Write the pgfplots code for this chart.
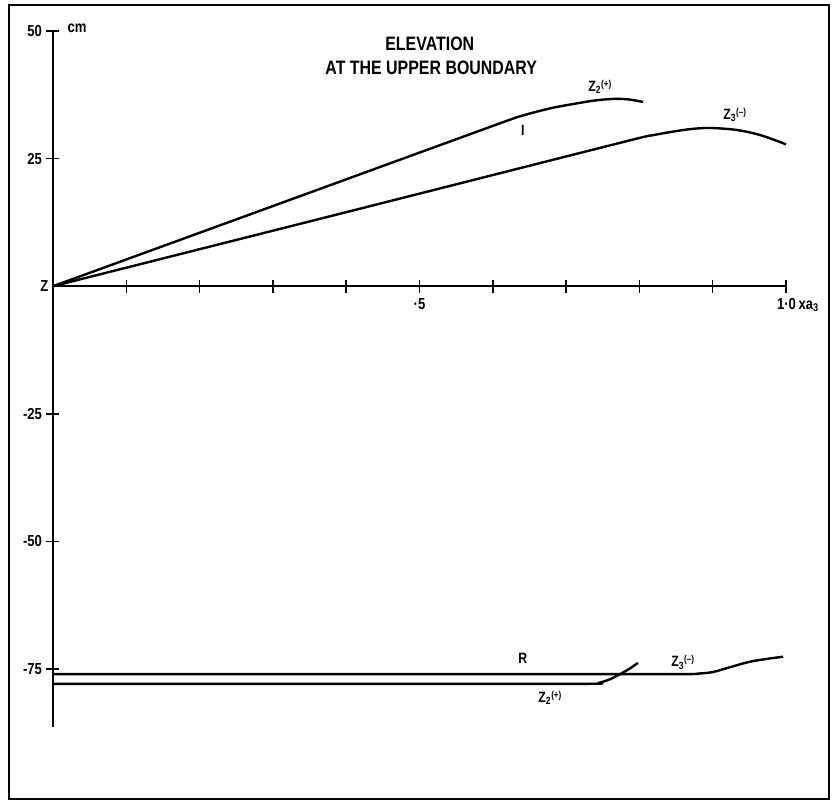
\documentclass[border=0pt]{standalone}
\usepackage{pgfplots}
\pgfplotsset{compat=1.18}
\usepackage{fontspec}
\setmainfont{Liberation Sans}[FakeStretch=0.82]
\newcommand{\lab}[3]{#1\textsubscript{#2}\raisebox{0.5ex}{\fontsize{10}{10}\selectfont #3}}
\begin{document}
\begin{tikzpicture}
\begin{axis}[
  x=733bp, y=5.104bp,
  xmin=0, xmax=1, ymin=-86.4, ymax=50,
  axis lines=middle,
  axis line style={-, line width=1.7bp},
  hide obscured x ticks=false, hide obscured y ticks=false,
  xtick={0.1,0.2,0.3,0.4,0.5,0.6,0.7,0.8,0.9,1.0},
  xticklabels={,,,,{·5},,,,,{\makebox[0pt][l]{\hspace{-9bp}1·0\,xa\textsubscript{3}}}},
  ytick={-75,-50,-25,25,50},
  yticklabels={-75,-50,-25,25,50},
  extra y ticks={0},
  extra y tick labels={Z},
  extra y tick style={major tick length=0pt},
  tick align=center,
  major tick length=13bp,
  tick style={line width=1.5bp, black},
  ticklabel style={font=\fontsize{16}{16}\bfseries\selectfont},
  xticklabel style={yshift=-2bp},
  yticklabel style={xshift=-1bp},
  clip=false,
]
\coordinate (O) at (axis cs:0,0);
% upper Z2(+)
\addplot[black, line width=2.4bp, smooth, tension=0.5] coordinates {
 (0,0) (0.3,15.7) (0.6,31.4) (0.64,33.4) (0.68,34.9) (0.71,35.7) (0.74,36.4) (0.765,36.7) (0.785,36.6) (0.805,36.1)};
% upper Z3(-)
\addplot[black, line width=2.4bp, smooth, tension=0.5] coordinates {
 (0,0) (0.4,14.5) (0.774,28.1) (0.819,29.6) (0.865,30.7) (0.896,31.0) (0.933,30.6) (0.965,29.6) (1.0,27.8)};
% lower Z3(-) / R
\addplot[black, line width=2.4bp, smooth, tension=0.5] coordinates {
 (0,-76.0) (0.5,-76.0) (0.85,-76.0) (0.88,-75.9) (0.90,-75.6) (0.92,-74.8) (0.95,-73.6) (0.975,-73.0) (0.996,-72.6)};
% lower Z2(+)
\addplot[black, line width=2.4bp, smooth, tension=0.5] coordinates {
 (0,-77.9) (0.5,-77.9) (0.73,-77.9) (0.745,-77.7) (0.76,-77.0) (0.775,-75.9) (0.787,-74.9) (0.798,-73.8)};
\node[font=\fontsize{19.5}{20}\bfseries\selectfont] at (axis cs:0.514,47.4) {ELEVATION};
\node[font=\fontsize{19.5}{20}\bfseries\selectfont] at (axis cs:0.516,42.8) {AT THE UPPER BOUNDARY};
\node[anchor=west, font=\fontsize{16}{16}\bfseries\selectfont] at (axis cs:0.015,50.6) {cm};
\node[font=\fontsize{15}{15}\bfseries\selectfont] at (axis cs:0.746,39.0) {\lab{Z}{2}{(+)}};
\node[font=\fontsize{15}{15}\bfseries\selectfont] at (axis cs:0.641,30.6) {I};
\node[font=\fontsize{15}{15}\bfseries\selectfont] at (axis cs:0.930,33.5) {\lab{Z}{3}{(--)}};
\node[font=\fontsize{15}{15}\bfseries\selectfont] at (axis cs:0.641,-73.0) {R};
\node[font=\fontsize{15}{15}\bfseries\selectfont] at (axis cs:0.859,-73.7) {\lab{Z}{3}{(--)}};
\node[font=\fontsize{15}{15}\bfseries\selectfont] at (axis cs:0.678,-80.7) {\lab{Z}{2}{(+)}};
\end{axis}
\draw[line width=2.6bp, shift={(O)}] (-44bp,281.2bp) rectangle (776bp,-512.8bp);
\pgfresetboundingbox
\path[shift={(O)}] (-53bp,286.2bp) rectangle (780bp,-516.8bp);
\end{tikzpicture}
\end{document}
